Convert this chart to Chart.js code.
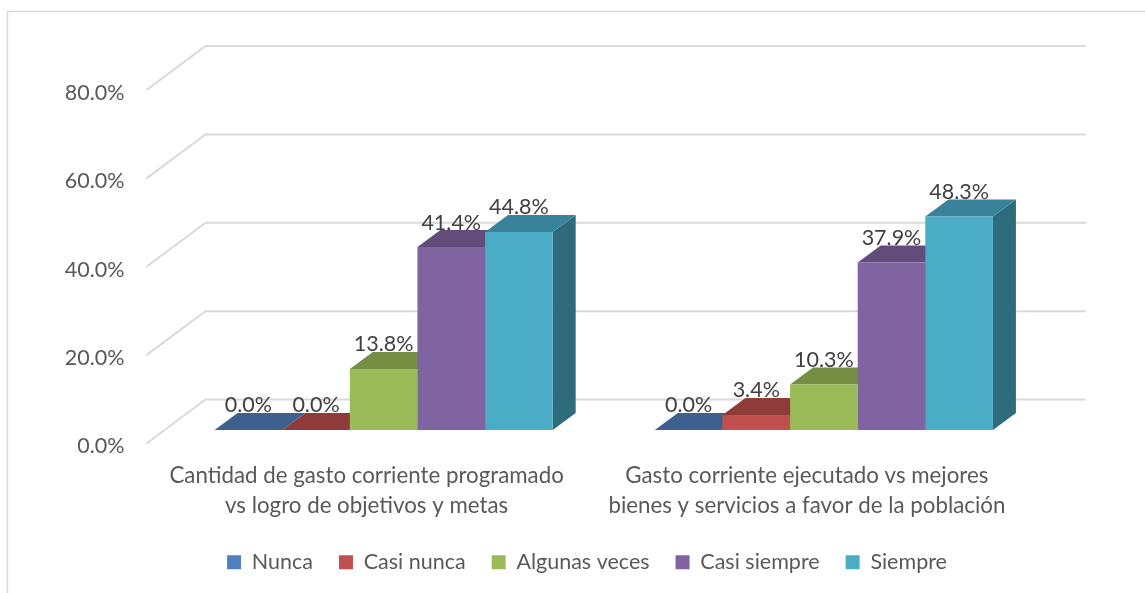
<!DOCTYPE html>
<html><head><meta charset="utf-8">
<style>html,body{margin:0;padding:0;background:#fff}#w{position:relative;width:1145px;height:593px}</style>
<script src="https://cdn.jsdelivr.net/npm/chart.js@4/dist/chart.umd.min.js"></script>
</head><body><div id="w"><canvas id="c" width="1145" height="593"></canvas></div>
<script>
const categories = [
  ["Cantidad de gasto corriente programado","vs logro de objetivos y metas"],
  ["Gasto corriente ejecutado vs mejores","bienes y servicios a favor de la población"]
];
const nunca = [0.0, 0.0];
const casiNunca = [0.0, 3.4];
const algunasVeces = [13.8, 10.3];
const casiSiempre = [41.4, 37.9];
const siempre = [44.8, 48.3];
const seriesNames = ["Nunca","Casi nunca","Algunas veces","Casi siempre","Siempre"];
const frontColors = ["#4F81BD","#C0504D","#9BBB59","#8064A2","#4BACC6"];
const capColors = ["#3C618F","#8F3B39","#768E43","#614C7B","#39839A"];
const sideColors = ["#2F4E73","#733030","#5F7236","#4E3D63","#2E6B7C"];
const FONT = "Lato, sans-serif";
const DX = 23, DY = 17, WALLX = 59, WALLY = 44, SHIFTX = 17, SHIFTY = -13.5;

const threeD = {
  id: "threeD",
  afterLayout(chart) {
    const l = chart.legend;
    l.left += 73.5; l.right += 73.5;
    l.top -= 10; l.bottom -= 10;
    if (l.legendHitBoxes) l.legendHitBoxes.forEach(h => { h.left += 73.5; h.top -= 10; });
  },
  beforeDraw(chart) {
    const c = chart.ctx;
    c.save();
    c.strokeStyle = "#D9D9D9"; c.lineWidth = 1.5;
    c.beginPath(); c.moveTo(7.5, 593); c.lineTo(7.5, 11.5); c.lineTo(1145, 11.5); c.stroke();
    c.restore();
  },
  beforeDatasetsDraw(chart) {
    const c = chart.ctx, y = chart.scales.y, a = chart.chartArea;
    c.save();
    c.strokeStyle = "#D9D9D9"; c.lineWidth = 2;
    y.ticks.forEach((t, i) => {
      const p = y.getPixelForTick(i);
      c.beginPath();
      c.moveTo(a.left, p);
      c.lineTo(a.left + WALLX, p - WALLY);
      c.lineTo(a.right + WALLX, p - WALLY);
      c.stroke();
    });
    c.restore();
    c.save();
    c.translate(SHIFTX, SHIFTY);
    chart.data.datasets.forEach((ds, di) => {
      chart.getDatasetMeta(di).data.forEach(b => {
        const L = b.x - b.width / 2, R = b.x + b.width / 2, T = b.y, B = b.base;
        c.fillStyle = sideColors[di];
        c.beginPath();
        c.moveTo(R, T); c.lineTo(R + DX, T - DY); c.lineTo(R + DX, B - DY); c.lineTo(R, B);
        c.closePath(); c.fill();
        c.fillStyle = capColors[di];
        c.beginPath();
        c.moveTo(L, T); c.lineTo(L + DX, T - DY); c.lineTo(R + DX, T - DY); c.lineTo(R, T);
        c.closePath(); c.fill();
      });
    });
  },
  afterDatasetsDraw(chart) {
    const c = chart.ctx;
    c.fillStyle = "#404040";
    c.font = "21.5px " + FONT;
    c.textAlign = "center"; c.textBaseline = "middle";
    chart.data.datasets.forEach((ds, di) => {
      chart.getDatasetMeta(di).data.forEach((b, i) => {
        c.fillText(ds.data[i].toFixed(1) + "%", b.x, b.y - 24.5);
      });
    });
    c.restore();
  }
};

const seriesValues = [nunca, casiNunca, algunasVeces, casiSiempre, siempre];
new Chart(document.getElementById("c"), {
  type: "bar",
  plugins: [threeD],
  data: {
    labels: categories,
    datasets: seriesNames.map((n, i) => ({
      label: n, data: seriesValues[i], backgroundColor: frontColors[i], borderWidth: 0, clip: false,
      categoryPercentage: 0.768, barPercentage: 1
    }))
  },
  options: {
    responsive: false, animation: false,
    layout: { padding: { top: 90, left: 0, right: 118, bottom: 0 } },
    plugins: {
      tooltip: { enabled: false },
      legend: {
        position: "bottom",
        labels: { boxWidth: 14, boxHeight: 14, padding: 26, color: "#595959", font: { family: FONT, size: 21.5 } }
      }
    },
    scales: {
      x: {
        grid: { display: false }, border: { display: false },
        afterFit(s) { s.height = 92; },
        ticks: { color: "#595959", font: { family: FONT, size: 22.3, lineHeight: 1.345 }, padding: 9, maxRotation: 0, autoSkip: false }
      },
      y: {
        min: 0, max: 80,
        afterFit(s) { s.width = 146.5; },
        grid: { display: false }, border: { display: false },
        ticks: { stepSize: 20, color: "#595959", padding: 14, labelOffset: 3, font: { family: FONT, size: 21.5 }, callback: v => v.toFixed(1) + "%" }
      }
    }
  }
});
</script></body></html>
